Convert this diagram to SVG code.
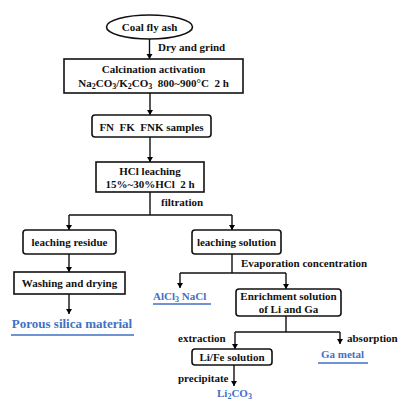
<svg xmlns="http://www.w3.org/2000/svg" width="398" height="401" viewBox="0 0 398 401">
<defs>
<marker id="ah" markerUnits="userSpaceOnUse" markerWidth="6" markerHeight="7" refX="5" refY="3.5" orient="auto">
<path d="M0,0.5 L5,3.5 L0,6.5 z" fill="#000"/>
</marker>
<style>
.t{font-family:"Liberation Serif","Times New Roman",serif;font-weight:bold;font-size:11px;fill:#111}
.c{text-anchor:middle}
.b{fill:#3f71c5}
.box{fill:#fff;stroke:#111;stroke-width:1.6}
.ln{fill:none;stroke:#111;stroke-width:1.4}
.ar{marker-end:url(#ah)}
.ul{stroke:#3f71c5;stroke-width:1.3}
.sub{font-size:8px}
</style>
</defs>
<rect width="398" height="401" fill="#fff"/>
<g id="connectors">
<line class="ln ar" x1="149.5" y1="39" x2="149.5" y2="59"/>
<line class="ln ar" x1="150" y1="93" x2="150" y2="115"/>
<line class="ln ar" x1="150" y1="137" x2="150" y2="162"/>
<polyline class="ln" points="150,192 150,215"/>
<polyline class="ln" points="69,215 232,215"/>
<line class="ln ar" x1="69" y1="215" x2="69" y2="230"/>
<line class="ln ar" x1="232" y1="215" x2="232" y2="230"/>
<line class="ln ar" x1="69" y1="254" x2="69" y2="272"/>
<line class="ln ar" x1="69" y1="294" x2="69" y2="314"/>
<polyline class="ln" points="232,254 232,273"/>
<polyline class="ln" points="180,273 286,273"/>
<line class="ln ar" x1="180" y1="273" x2="180" y2="288"/>
<line class="ln ar" x1="286" y1="273" x2="286" y2="289"/>
<polyline class="ln" points="286,316 286,332"/>
<polyline class="ln" points="235,332 340,332"/>
<line class="ln ar" x1="235" y1="332" x2="235" y2="349"/>
<line class="ln ar" x1="340" y1="332" x2="340" y2="344"/>
<line class="ln ar" x1="234" y1="365" x2="234" y2="386"/>
<text class="t" x="158" y="51">Dry and grind</text>
<text class="t" x="161" y="206">filtration</text>
<text class="t" x="241" y="267">Evaporation concentration</text>
<text class="t" x="178" y="342">extraction</text>
<text class="t" x="347" y="342">absorption</text>
<text class="t" x="178" y="382">precipitate</text>
</g>
<g id="coal">
<ellipse class="box" cx="149.5" cy="27" rx="43" ry="12"/>
<text class="t c" x="149.5" y="31">Coal fly ash</text>
</g>
<g id="calcination">
<rect class="box" x="64" y="59" width="179" height="34"/>
<text class="t c" x="153.5" y="73">Calcination activation</text>
<text class="t c" x="153.5" y="87" xml:space="preserve">Na<tspan class="sub" dy="2">2</tspan><tspan dy="-2">CO</tspan><tspan class="sub" dy="2">3</tspan><tspan dy="-2">/K</tspan><tspan class="sub" dy="2">2</tspan><tspan dy="-2">CO</tspan><tspan class="sub" dy="2">3</tspan><tspan dy="-2">  800~900°C  2 h</tspan></text>
</g>
<g id="samples">
<rect class="box" x="92" y="115" width="119" height="22" rx="3"/>
<text class="t c" x="151.5" y="131" xml:space="preserve">FN  FK  FNK samples</text>
</g>
<g id="hcl">
<rect class="box" x="96" y="162" width="108" height="30"/>
<text class="t c" x="150" y="175">HCl leaching</text>
<text class="t c" x="150" y="188" xml:space="preserve">15%~30%HCl  2 h</text>
</g>
<g id="residue">
<rect class="box" x="23" y="230" width="93" height="24" rx="3"/>
<text class="t c" x="69.5" y="246">leaching residue</text>
</g>
<g id="solution">
<rect class="box" x="192" y="230" width="89" height="24" rx="3"/>
<text class="t c" x="236.5" y="246">leaching solution</text>
</g>
<g id="washing">
<rect class="box" x="14" y="272" width="111" height="22"/>
<text class="t c" x="69.5" y="287">Washing and drying</text>
</g>
<g id="porous">
<text class="t c b" x="72" y="328" style="font-size:13px">Porous silica material</text>
<line class="ul" x1="11" y1="335" x2="134" y2="335"/>
</g>
<g id="alcl">
<text class="t b" x="153" y="300" xml:space="preserve">AlCl<tspan class="sub" dy="2">3</tspan><tspan dy="-2"> NaCl</tspan></text>
<line class="ul" x1="153" y1="304" x2="211" y2="304"/>
</g>
<g id="enrichment">
<rect class="box" x="236" y="289" width="105" height="27" rx="3"/>
<text class="t c" x="288.5" y="300">Enrichment solution</text>
<text class="t c" x="288.5" y="313">of Li and Ga</text>
</g>
<g id="life">
<rect class="box" x="192" y="349" width="80" height="16" rx="3"/>
<text class="t c" x="232" y="361">Li/Fe solution</text>
</g>
<g id="ga">
<text class="t b" x="321" y="358">Ga metal</text>
<line class="ul" x1="318" y1="363" x2="368" y2="363"/>
</g>
<g id="li2co3">
<text class="t b" x="217" y="397">Li<tspan class="sub" dy="2">2</tspan><tspan dy="-2">CO</tspan><tspan class="sub" dy="2">3</tspan></text>
</g>
</svg>
